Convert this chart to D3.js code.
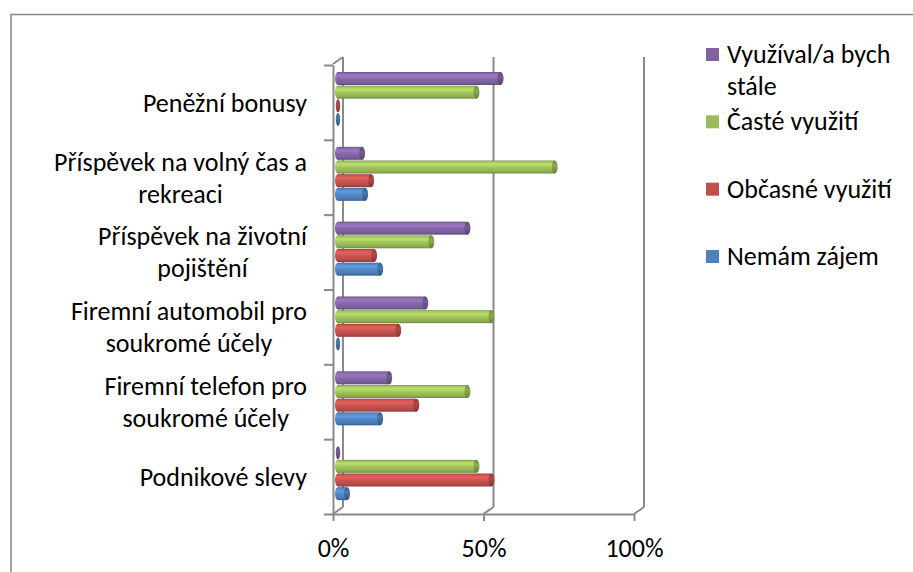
<!DOCTYPE html>
<html>
<head>
<meta charset="utf-8">
<script src="https://cdn.jsdelivr.net/npm/d3@7/dist/d3.min.js"></script>
<style>
  html, body { margin: 0; padding: 0; background: #fff; }
  svg { display: block; }
  text { font-family: Carlito, Calibri, Lato, sans-serif; fill: #000; }
</style>
</head>
<body>
<script>
// Benefit categories, top to bottom ("\n" marks a label line break)
const categories = [
  "Peněžní bonusy",
  "Příspěvek na volný čas a\nrekreaci",
  "Příspěvek na životní\npojištění",
  "Firemní automobil pro\nsoukromé účely",
  "Firemní telefon pro\nsoukromé účely",
  "Podnikové slevy"
];
// Answer series, in bar order within each category (top to bottom)
const series = ["Využíval/a bych stále", "Časté využití", "Občasné využití", "Nemám zájem"];
// Share of answers in %, per category
const staleValues    = [54,  8, 43, 29, 17,  0];
const casteValues    = [46, 72, 31, 51, 43, 46];
const obcasneValues  = [ 0, 11, 12, 20, 26, 51];
const nezajemValues  = [ 0,  9, 14,  0, 14,  3];
const xTicks = [0, 50, 100];
const seriesColors = ["#8064A2", "#9BBB59", "#C0504D", "#4F81BD"];

const valuesBySeries = [staleValues, casteValues, obcasneValues, nezajemValues];

const W = 913, H = 572;
const FONT = 26;
const GRID = "#8a8a8a";
const DX = 10, DY = -7;           // depth offset of the 3D box
const TOP = 65, FLOOR = 514;

const svg = d3.select("body").append("svg")
  .attr("width", W).attr("height", H);

// chart frame
svg.append("rect")
  .attr("x", 11).attr("y", 14.5)
  .attr("width", W + 20).attr("height", H + 20)
  .attr("fill", "none").attr("stroke", "#8c8c8c").attr("stroke-width", 1.6);

const x = d3.scaleLinear().domain([0, 100]).range([333, 634]);
const y = d3.scaleBand().domain(categories).range([TOP, FLOOR]);
const yEdge = d3.scaleLinear().domain([0, categories.length]).range([TOP, FLOOR]);
const yInner = d3.scaleBand().domain(series).range([7, 61]).paddingInner(0.05);

// cylinder gradients
const defs = svg.append("defs");
seriesColors.forEach((c, i) => {
  const base = d3.color(c);
  const g = defs.append("linearGradient")
    .attr("id", "cyl" + i).attr("x1", 0).attr("y1", 0).attr("x2", 0).attr("y2", 1);
  [[0, base.darker(0.7)], [0.1, base.brighter(0.15)], [0.3, base.brighter(0.5)],
   [0.55, base.brighter(0.1)], [0.85, base.darker(0.2)], [1, base.darker(0.9)]]
    .forEach(([o, col]) => g.append("stop").attr("offset", o).attr("stop-color", col));
  const gc = defs.append("linearGradient")
    .attr("id", "cap" + i).attr("x1", 0).attr("y1", 0).attr("x2", 0).attr("y2", 1);
  [[0, base.darker(0.9)], [0.4, base.darker(0.25)], [1, base.darker(1.1)]]
    .forEach(([o, col]) => gc.append("stop").attr("offset", o).attr("stop-color", col));
});

// back wall gridlines and floor edges
const box = svg.append("g").attr("stroke", GRID).attr("stroke-width", 2).attr("fill", "none");
box.selectAll("line.grid").data(xTicks).join("line")
  .attr("class", "grid")
  .attr("x1", d => x(d) + DX).attr("x2", d => x(d) + DX)
  .attr("y1", TOP - 1 + DY).attr("y2", FLOOR + DY);
box.selectAll("line.floor").data(xTicks).join("line")
  .attr("class", "floor")
  .attr("x1", d => x(d)).attr("x2", d => x(d) + DX)
  .attr("y1", FLOOR).attr("y2", FLOOR + DY);
box.append("line")
  .attr("x1", x(0)).attr("x2", x(0) + DX)
  .attr("y1", TOP - 1).attr("y2", TOP - 1 + DY);

// left (category) axis with ticks at band edges
const yAxis = svg.append("g").attr("transform", `translate(${x(0)},0)`)
  .call(d3.axisLeft(yEdge).tickValues(d3.range(categories.length + 1))
    .tickFormat("").tickSize(9).tickSizeOuter(0));
yAxis.select(".domain").attr("stroke", GRID).attr("stroke-width", 2);
yAxis.selectAll(".tick line").attr("stroke", GRID).attr("stroke-width", 2);

// bottom (value) axis
const xAxis = svg.append("g").attr("transform", `translate(0,${FLOOR})`)
  .call(d3.axisBottom(x).tickValues(xTicks).tickFormat(d => d + "%")
    .tickSize(7).tickSizeOuter(0));
xAxis.select(".domain").attr("stroke", GRID).attr("stroke-width", 2);
xAxis.selectAll(".tick line").attr("stroke", GRID).attr("stroke-width", 2);
xAxis.selectAll(".tick text")
  .attr("y", 25).attr("font-size", FONT).attr("fill", "#000")
  .style("font-family", "Carlito, Calibri, Lato, sans-serif");

// bars (3D cylinders)
const bars = [];
categories.forEach((c, ci) => {
  series.forEach((s, si) => {
    bars.push({ cat: c, ser: s, si, v: valuesBySeries[si][ci] });
  });
});
const barG = svg.append("g");
const bh = yInner.bandwidth();
const RX = 3;
bars.forEach(b => {
  const y0 = y(b.cat) + yInner(b.ser);
  const x0 = x(0) + DX / 2;
  const x1 = x(b.v) + DX / 2;
  const g = barG.append("g");
  if (b.v > 0) {
    g.append("ellipse")
      .attr("cx", x0).attr("cy", y0 + bh / 2).attr("rx", RX).attr("ry", bh / 2)
      .attr("fill", `url(#cyl${b.si})`);
    g.append("rect")
      .attr("x", x0).attr("y", y0).attr("width", x1 - x0).attr("height", bh)
      .attr("fill", `url(#cyl${b.si})`);
  }
  g.append("ellipse")
    .attr("cx", x1).attr("cy", y0 + bh / 2).attr("rx", b.v > 0 ? RX : 2.2).attr("ry", bh / 2)
    .attr("fill", `url(#cap${b.si})`);
});

// category labels: multi-line, lines centred, block right-aligned
const LINE = 32;
const labelG = svg.append("g").attr("font-size", FONT);
categories.forEach(c => {
  const lines = c.split("\n");
  const t = labelG.append("text").attr("text-anchor", "middle");
  const cy = y(c) + y.bandwidth() / 2;
  const firstBase = cy - (lines.length - 1) * LINE / 2 + FONT * 0.36;
  lines.forEach((ln, i) => {
    t.append("tspan").attr("y", firstBase + i * LINE).text(ln);
  });
  let maxW = 0;
  t.selectAll("tspan").each(function () { maxW = Math.max(maxW, this.getComputedTextLength()); });
  t.selectAll("tspan").attr("x", 307 - maxW / 2);
});

// legend
const legendY = d3.scaleLinear().domain([0, series.length - 1]).range([63, 265]);
const legend = svg.append("g").attr("font-size", FONT);
function wrap(text, maxW, probe) {
  const words = text.split(" ");
  const out = [];
  let cur = "";
  words.forEach(w => {
    const trial = cur ? cur + " " + w : w;
    probe.text(trial);
    if (cur && probe.node().getComputedTextLength() > maxW) { out.push(cur); cur = w; }
    else cur = trial;
  });
  out.push(cur);
  probe.text("");
  return out;
}
const probe = legend.append("text");
series.forEach((s, i) => {
  const base = legendY(i);
  legend.append("rect")
    .attr("x", 706).attr("y", base - 15).attr("width", 13).attr("height", 13)
    .attr("fill", seriesColors[i]);
  const lines = wrap(s, 180, probe);
  const t = legend.append("text");
  lines.forEach((ln, k) => t.append("tspan").attr("x", 727).attr("y", base + k * 32).text(ln));
});
probe.remove();
</script>
</body>
</html>
